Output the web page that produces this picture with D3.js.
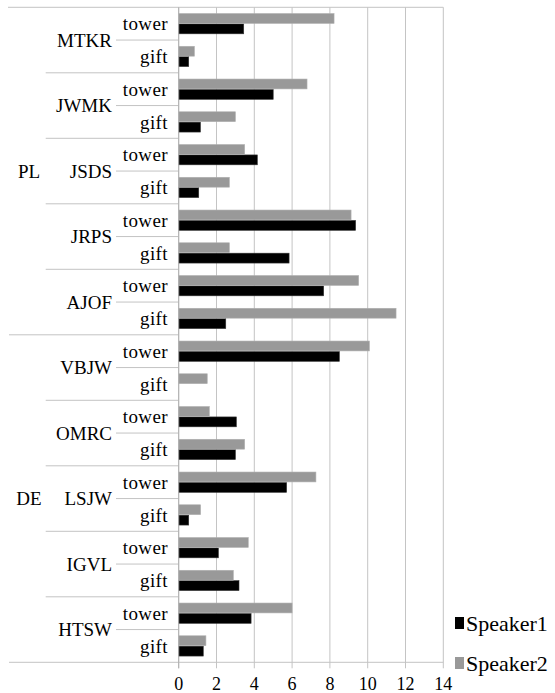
<!DOCTYPE html>
<html>
<head>
<meta charset="utf-8">
<script src="https://cdn.jsdelivr.net/npm/d3@7"></script>
<style>
  body { margin: 0; background: #fff; }
</style>
</head>
<body>
<svg id="chart"></svg>
<script>
// data
const groups = ['PL', 'DE'];
const speakers = ['MTKR', 'JWMK', 'JSDS', 'JRPS', 'AJOF', 'VBJW', 'OMRC', 'LSJW', 'IGVL', 'HTSW'];
const speakerGroup = ['PL', 'PL', 'PL', 'PL', 'PL', 'DE', 'DE', 'DE', 'DE', 'DE'];
const conditions = ['tower', 'gift'];
const seriesNames = ['Speaker1', 'Speaker2'];
const speaker1Tower = [3.44, 5.0, 4.16, 9.36, 7.67, 8.5, 3.05, 5.71, 2.1, 3.83];
const speaker1Gift = [0.53, 1.15, 1.06, 5.84, 2.49, 0, 3.0, 0.53, 3.19, 1.3];
const speaker2Tower = [8.22, 6.79, 3.49, 9.12, 9.52, 10.09, 1.62, 7.26, 3.68, 6.0];
const speaker2Gift = [0.83, 3.0, 2.68, 2.68, 11.5, 1.51, 3.49, 1.16, 2.89, 1.44];
const xTicks = [0, 2, 4, 6, 8, 10, 12, 14];

const width = 555, height = 693;
const plotLeft = 178.7, plotRight = 443.3, plotTop = 7.3, plotBottom = 662.3;
const lineColor = '#c4c4c4';
const serif = '"Liberation Serif", "Times New Roman", Times, "DejaVu Serif", serif';
const colors = { Speaker1: '#000000', Speaker2: '#999999' };
const strokes = { Speaker1: '#333333', Speaker2: '#b0b0b0' };

// one row per speaker/condition
let rows = [];
speakers.forEach((s, i) => {
  rows.push({ key: s + '-tower', speaker: s, cond: 'tower', Speaker1: speaker1Tower[i], Speaker2: speaker2Tower[i] });
  rows.push({ key: s + '-gift', speaker: s, cond: 'gift', Speaker1: speaker1Gift[i], Speaker2: speaker2Gift[i] });
});

const svg = d3.select('#chart').attr('width', width).attr('height', height)
  .style('font-family', serif);

const x = d3.scaleLinear().domain([0, 14]).range([plotLeft, plotRight]);
const y = d3.scaleBand().domain(rows.map(d => d.key)).range([plotTop, plotBottom]);
const yInner = d3.scaleBand().domain(['Speaker2', 'Speaker1'])
  .range([0, y.bandwidth()]).paddingInner(0.05).paddingOuter(0.6);

// vertical grid lines
svg.append('g').selectAll('line')
  .data(xTicks).enter()
  .append('line')
  .attr('x1', d => x(d)).attr('x2', d => x(d))
  .attr('y1', plotTop).attr('y2', plotBottom + 6)
  .attr('stroke', lineColor).attr('stroke-width', 1);

// top and bottom borders, run out under the labels
svg.append('line')
  .attr('x1', 8).attr('x2', plotRight)
  .attr('y1', plotTop).attr('y2', plotTop)
  .attr('stroke', lineColor);
svg.append('line')
  .attr('x1', 9).attr('x2', plotRight)
  .attr('y1', plotBottom).attr('y2', plotBottom)
  .attr('stroke', lineColor);

// category separators: condition, speaker, group
svg.append('g').selectAll('line')
  .data(rows).enter()
  .append('line')
  .attr('x1', (d, i) => {
    if (d.cond === 'gift') return 116;
    if (i === 10) return 9;
    return 45.7;
  })
  .attr('x2', plotLeft)
  .attr('y1', d => y(d.key)).attr('y2', d => y(d.key))
  .attr('stroke', lineColor)
  .style('display', (d, i) => i === 0 ? 'none' : null);

// bars
const rowG = svg.append('g').selectAll('g')
  .data(rows).enter()
  .append('g')
  .attr('transform', d => 'translate(0,' + y(d.key) + ')');

rowG.selectAll('rect')
  .data(d => seriesNames.map(s => ({ series: s, value: d[s] })).filter(b => b.value > 0))
  .enter()
  .append('rect')
  .attr('x', x(0))
  .attr('y', d => yInner(d.series))
  .attr('width', d => x(d.value) - x(0))
  .attr('height', yInner.bandwidth())
  .attr('fill', d => colors[d.series])
  .attr('stroke', d => strokes[d.series])
  .attr('stroke-width', 0.6);

// axis line at zero
svg.append('line')
  .attr('x1', x(0)).attr('x2', x(0))
  .attr('y1', plotTop).attr('y2', plotBottom + 6)
  .attr('stroke', '#b0b0b0');

// x tick labels
svg.append('g').selectAll('text')
  .data(xTicks).enter()
  .append('text')
  .attr('x', d => x(d))
  .attr('y', 690)
  .attr('text-anchor', 'middle')
  .attr('font-family', serif)
  .attr('font-size', 18)
  .text(d => d);

// condition labels
svg.append('g').selectAll('text')
  .data(rows).enter()
  .append('text')
  .attr('x', 168)
  .attr('y', d => y(d.key) + y.bandwidth() / 2)
  .attr('dy', '0.35em')
  .attr('text-anchor', 'end')
  .attr('font-family', serif)
  .attr('font-size', 19)
  .attr('letter-spacing', 0.4)
  .text(d => d.cond);

// speaker labels, centred on the tower/gift boundary
svg.append('g').selectAll('text')
  .data(speakers).enter()
  .append('text')
  .attr('x', 112)
  .attr('y', d => y(d + '-gift'))
  .attr('dy', '0.35em')
  .attr('text-anchor', 'end')
  .attr('font-family', serif)
  .attr('font-size', 19)
  .text(d => d);

// group labels
svg.append('g').selectAll('text')
  .data(groups).enter()
  .append('text')
  .attr('x', 29)
  .attr('y', g => {
    let keys = rows.filter(r => speakerGroup[speakers.indexOf(r.speaker)] === g).map(r => r.key);
    return (y(keys[0]) + y(keys[keys.length - 1]) + y.bandwidth()) / 2;
  })
  .attr('dy', '0.35em')
  .attr('text-anchor', 'middle')
  .attr('font-family', serif)
  .attr('font-size', 19)
  .text(d => d);

// legend
const legend = svg.append('g').selectAll('g')
  .data(seriesNames).enter()
  .append('g')
  .attr('transform', (d, i) => 'translate(455,' + (623 + i * 40) + ')');
legend.append('rect')
  .attr('x', 0).attr('y', -6)
  .attr('width', 9).attr('height', 12)
  .attr('fill', d => colors[d]);
legend.append('text')
  .attr('x', 11).attr('y', 0)
  .attr('dy', '0.35em')
  .attr('font-family', serif)
  .attr('font-size', 22)
  .text(d => d);
</script>
</body>
</html>
